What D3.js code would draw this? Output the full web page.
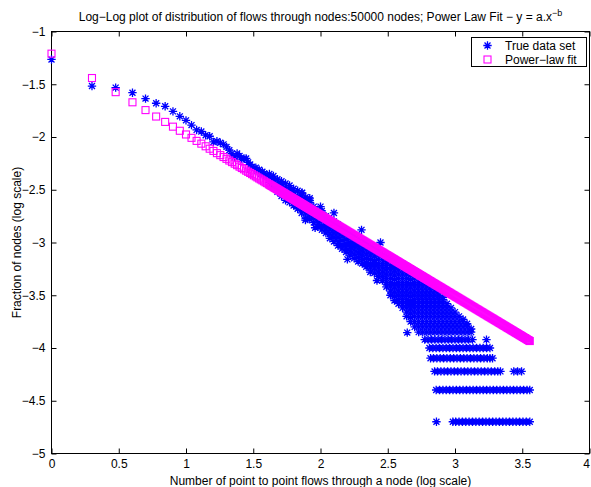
<!DOCTYPE html>
<html><head><meta charset="utf-8">
<script src="https://cdn.jsdelivr.net/npm/d3@7"></script>
<style>body{margin:0;background:#fff}svg{display:block}text{font-family:"Liberation Sans",Arial,sans-serif;fill:#000}</style>
</head><body><svg id="chart" width="591" height="487"></svg>
<script>
// ---------- data ----------
const totalNodes = 50000;
const xTicks = [0, 0.5, 1, 1.5, 2, 2.5, 3, 3.5, 4];
const yTicks = [-5, -4.5, -4, -3.5, -3, -2.5, -2, -1.5, -1];
const titleText = "Log\u2212Log plot of distribution of flows through nodes:50000 nodes; Power Law Fit \u2212 y = a.x";
const titleSup = "\u2212b";
const xLabel = "Number of point to point flows through a node (log scale)";
const yLabel = "Fraction of nodes (log scale)";
const legendLabels = ["True data set", "Power\u2212law fit"];

// true data: first 40 degrees (log10 k, log10 fraction)
const headX = [0,0.301,0.477,0.602,0.699,0.778,0.845,0.903,0.954,1,1.041,1.079,1.114,1.146,1.176,1.204,1.230,1.255,1.279,1.301,1.322,1.342,1.362,1.380,1.398,1.415,1.431,1.447,1.462,1.477,1.491,1.505,1.519,1.531,1.544,1.556,1.568,1.580,1.591,1.602];
const headY = [-1.265,-1.517,-1.532,-1.580,-1.636,-1.680,-1.709,-1.757,-1.804,-1.842,-1.887,-1.933,-1.948,-1.983,-1.993,-2.047,-2.040,-2.055,-2.070,-2.094,-2.125,-2.157,-2.189,-2.157,-2.180,-2.210,-2.204,-2.204,-2.240,-2.260,-2.283,-2.298,-2.290,-2.320,-2.310,-2.350,-2.330,-2.346,-2.370,-2.360];

// true data: scattered cloud, by column
const cloudColX = [1.62,1.65,1.68,1.71,1.74,1.77,1.80,1.83,1.86,1.89,1.92,1.95,1.98,2.01,2.04,2.07,2.10,2.13,2.16,2.19,2.22,2.25,2.28,2.31,2.34,2.37,2.40,2.43,2.46,2.49,2.52,2.55,2.58,2.61,2.64,2.67,2.70,2.73,2.76,2.79,2.82,2.85,2.88,2.91,2.94,2.97,3.00,3.03,3.06,3.09,3.12];
const cloudColY = [
 [-2.43,-2.39,-2.35],
 [-2.47,-2.43,-2.40,-2.37],
 [-2.52,-2.48,-2.44,-2.40],
 [-2.56,-2.52,-2.48,-2.45,-2.42],
 [-2.60,-2.56,-2.52,-2.48,-2.44],
 [-2.62,-2.58,-2.54,-2.50,-2.46],
 [-2.65,-2.61,-2.57,-2.53,-2.49],
 [-2.68,-2.64,-2.60,-2.56,-2.51],
 [-2.72,-2.68,-2.64,-2.60,-2.56,-2.53],
 [-2.77,-2.72,-2.68,-2.64,-2.60,-2.57],
 [-2.78,-2.74,-2.70,-2.66,-2.62,-2.60],
 [-2.81,-2.77,-2.73,-2.69,-2.66],
 [-2.85,-2.81,-2.77,-2.73,-2.69],
 [-2.88,-2.84,-2.80,-2.76,-2.72,-2.70],
 [-2.91,-2.87,-2.83,-2.79,-2.75],
 [-2.96,-2.92,-2.88,-2.84,-2.80],
 [-2.99,-2.95,-2.91,-2.87,-2.83,-2.80],
 [-3.03,-2.99,-2.95,-2.91,-2.87,-2.83],
 [-3.06,-3.02,-2.98,-2.94,-2.90,-2.86],
 [-3.09,-3.05,-3.01,-2.97,-2.93,-2.89],
 [-3.12,-3.08,-3.04,-3.00,-2.96,-2.91],
 [-3.15,-3.11,-3.07,-3.03,-2.99,-2.94],
 [-3.18,-3.14,-3.10,-3.06,-3.02,-2.97],
 [-3.20,-3.16,-3.12,-3.08,-3.04,-3.00],
 [-3.23,-3.19,-3.15,-3.11,-3.07,-3.03,-3.00],
 [-3.28,-3.24,-3.20,-3.16,-3.12,-3.08,-3.04],
 [-3.29,-3.25,-3.21,-3.17,-3.13,-3.09,-3.05],
 [-3.32,-3.28,-3.24,-3.20,-3.16,-3.12,-3.08],
 [-3.36,-3.32,-3.28,-3.24,-3.20,-3.16,-3.12],
 [-3.42,-3.38,-3.34,-3.30,-3.26,-3.22,-3.18,-3.14],
 [-3.50,-3.46,-3.42,-3.38,-3.34,-3.30,-3.26,-3.22,-3.17],
 [-3.55,-3.51,-3.47,-3.43,-3.39,-3.35,-3.31,-3.27,-3.23,-3.19],
 [-3.58,-3.54,-3.50,-3.46,-3.42,-3.38,-3.34,-3.30,-3.26,-3.22],
 [-3.62,-3.58,-3.54,-3.50,-3.46,-3.42,-3.38,-3.34,-3.30,-3.26,-3.23],
 [-3.70,-3.66,-3.62,-3.58,-3.54,-3.50,-3.46,-3.42,-3.38,-3.34,-3.30,-3.26],
 [-3.75,-3.71,-3.67,-3.63,-3.59,-3.55,-3.51,-3.47,-3.43,-3.39,-3.35,-3.31,-3.28],
 [-3.80,-3.75,-3.70,-3.66,-3.62,-3.58,-3.54,-3.50,-3.46,-3.42,-3.38,-3.34,-3.30],
 [-3.85,-3.80,-3.75,-3.70,-3.66,-3.62,-3.58,-3.54,-3.50,-3.46,-3.42,-3.38,-3.34,-3.31],
 [-3.85,-3.80,-3.75,-3.70,-3.66,-3.62,-3.58,-3.54,-3.50,-3.46,-3.42,-3.38,-3.34],
 [-3.85,-3.80,-3.75,-3.70,-3.66,-3.62,-3.58,-3.54,-3.50,-3.46,-3.42,-3.38,-3.35],
 [-3.85,-3.80,-3.75,-3.70,-3.66,-3.62,-3.58,-3.54,-3.50,-3.46,-3.42,-3.38],
 [-3.85,-3.80,-3.75,-3.70,-3.66,-3.62,-3.58,-3.54,-3.50,-3.46,-3.42],
 [-3.85,-3.80,-3.75,-3.70,-3.66,-3.62,-3.58,-3.54,-3.50,-3.46],
 [-3.85,-3.80,-3.75,-3.70,-3.66,-3.62,-3.58,-3.54,-3.52],
 [-3.85,-3.80,-3.75,-3.70,-3.66,-3.62,-3.58],
 [-3.85,-3.80,-3.75,-3.70,-3.66,-3.62],
 [-3.85,-3.80,-3.75,-3.70,-3.66],
 [-3.85,-3.80,-3.75,-3.70],
 [-3.85,-3.80,-3.75,-3.73],
 [-3.85,-3.80,-3.77],
 [-3.85,-3.82]
];

// true data: isolated stars
const outlierX = [1.864,1.920,2.000,2.100,2.305,2.446,1.888,2.645,1.960,2.200,2.420];
const outlierY = [-2.529,-2.580,-2.660,-2.720,-2.880,-3.000,-2.787,-3.854,-2.860,-3.160,-3.360];

// true data: low-count rows (count of nodes = 1..6)
const row1X = [2.862,2.984,3.005,3.03,3.055,3.08,3.105,3.13,3.155,3.18,3.205,3.23,3.255,3.28,3.305,3.33,3.355,3.38,3.405,3.43,3.455,3.48,3.505,3.53,3.556];
const row2X = [2.86,2.885,2.91,2.935,2.96,2.985,3.01,3.035,3.06,3.085,3.11,3.135,3.16,3.185,3.21,3.235,3.26,3.285,3.31,3.335,3.36,3.385,3.41,3.435,3.46,3.485,3.51,3.535,3.556];
const row3X = [2.848,2.87,2.895,2.92,2.945,2.97,2.995,3.02,3.045,3.07,3.095,3.12,3.145,3.17,3.195,3.22,3.245,3.27,3.295,3.318,3.338,3.437,3.465,3.495];
const row4X = [2.818,2.84,2.865,2.89,2.915,2.94,2.965,2.99,3.015,3.04,3.065,3.09,3.115,3.14,3.165,3.19,3.215,3.24,3.26,3.279];
const row5X = [2.81,2.835,2.86,2.885,2.91,2.935,2.96,2.985,3.01,3.035,3.06,3.085,3.11,3.135,3.16,3.185,3.21,3.235,3.26];
const row6X = [2.775,2.80,2.825,2.85,2.875,2.90,2.925,2.95,2.975,3.00,3.025,3.05,3.075,3.10,3.13,3.234];
const rowCounts = [1, 2, 3, 4, 5, 6];

// power-law fit points
const fitX = [0,0.301,0.477,0.602,0.699,0.778,0.845,0.903,0.954,1,1.041,1.079,1.114,1.146,1.176,1.204,1.230,1.255,1.279,1.301,1.322,1.342,1.362,1.380,1.398,1.415,1.431,1.447,1.462,1.477,1.491,1.505,1.519,1.531,1.544,1.556,1.568,1.580,1.591,1.602,
 1.615,1.6225,1.63,1.6375,1.645,1.6525,1.66,1.6675,1.675,1.6825,1.69,1.6975,1.705,1.7125,1.72,1.7275,1.735,1.7425,1.75,1.7575,
 1.765,1.7725,1.78,1.7875,1.795,1.8025,1.81,1.8175,1.825,1.8325,1.84,1.8475,1.855,1.8625,1.87,1.8775,1.885,1.8925,1.9,1.9075,
 1.915,1.9225,1.93,1.9375,1.945,1.9525,1.96,1.9675,1.975,1.9825,1.99,1.9975,2.005,2.0125,2.02,2.0275,2.035,2.0425,2.05,2.0575,
 2.065,2.0725,2.08,2.0875,2.095,2.1025,2.11,2.1175,2.125,2.1325,2.14,2.1475,2.155,2.1625,2.17,2.1775,2.185,2.1925,2.2,2.2075,
 2.215,2.2225,2.23,2.2375,2.245,2.2525,2.26,2.2675,2.275,2.2825,2.29,2.2975,2.305,2.3125,2.32,2.3275,2.335,2.3425,2.35,2.3575,
 2.365,2.3725,2.38,2.3875,2.395,2.4025,2.41,2.4175,2.425,2.4325,2.44,2.4475,2.455,2.4625,2.47,2.4775,2.485,2.4925,2.5,2.5075,
 2.515,2.5225,2.53,2.5375,2.545,2.5525,2.56,2.5675,2.575,2.5825,2.59,2.5975,2.605,2.6125,2.62,2.6275,2.635,2.6425,2.65,2.6575,
 2.665,2.6725,2.68,2.6875,2.695,2.7025,2.71,2.7175,2.725,2.7325,2.74,2.7475,2.755,2.7625,2.77,2.7775,2.785,2.7925,2.8,2.8075,
 2.815,2.8225,2.83,2.8375,2.845,2.8525,2.86,2.8675,2.875,2.8825,2.89,2.8975,2.905,2.9125,2.92,2.9275,2.935,2.9425,2.95,2.9575,
 2.965,2.9725,2.98,2.9875,2.995,3.0025,3.01,3.0175,3.025,3.0325,3.04,3.0475,3.055,3.0625,3.07,3.0775,3.085,3.0925,3.1,3.1075,
 3.115,3.1225,3.13,3.1375,3.145,3.1525,3.16,3.1675,3.175,3.1825,3.19,3.1975,3.205,3.2125,3.22,3.2275,3.235,3.2425,3.25,3.2575,
 3.265,3.2725,3.28,3.2875,3.295,3.3025,3.31,3.3175,3.325,3.3325,3.34,3.3475,3.355,3.3625,3.37,3.3775,3.385,3.3925,3.4,3.4075,
 3.415,3.4225,3.43,3.4375,3.445,3.4525,3.46,3.4675,3.475,3.4825,3.49,3.4975,3.505,3.5125,3.52,3.5275,3.535,3.5425,3.55,3.556];
const fitY = [-1.210,-1.441,-1.575,-1.671,-1.745,-1.806,-1.857,-1.902,-1.941,-1.976,-2.008,-2.037,-2.063,-2.088,-2.111,-2.132,-2.153,-2.172,-2.190,-2.207,-2.223,-2.238,-2.253,-2.267,-2.281,-2.294,-2.306,-2.319,-2.330,-2.341,-2.352,-2.363,-2.373,-2.383,-2.393,-2.402,-2.411,-2.420,-2.429,-2.437,
 -2.447,-2.453,-2.459,-2.464,-2.470,-2.476,-2.482,-2.487,-2.493,-2.499,-2.505,-2.510,-2.516,-2.522,-2.528,-2.533,-2.539,-2.545,-2.551,-2.556,
 -2.562,-2.568,-2.573,-2.579,-2.585,-2.591,-2.596,-2.602,-2.608,-2.614,-2.619,-2.625,-2.631,-2.637,-2.642,-2.648,-2.654,-2.660,-2.665,-2.671,
 -2.677,-2.683,-2.688,-2.694,-2.700,-2.706,-2.711,-2.717,-2.723,-2.729,-2.734,-2.740,-2.746,-2.752,-2.757,-2.763,-2.769,-2.775,-2.780,-2.786,
 -2.792,-2.798,-2.803,-2.809,-2.815,-2.821,-2.826,-2.832,-2.838,-2.844,-2.849,-2.855,-2.861,-2.866,-2.872,-2.878,-2.884,-2.889,-2.895,-2.901,
 -2.907,-2.912,-2.918,-2.924,-2.930,-2.935,-2.941,-2.947,-2.953,-2.958,-2.964,-2.970,-2.976,-2.981,-2.987,-2.993,-2.999,-3.004,-3.010,-3.016,
 -3.022,-3.027,-3.033,-3.039,-3.045,-3.050,-3.056,-3.062,-3.068,-3.073,-3.079,-3.085,-3.091,-3.096,-3.102,-3.108,-3.114,-3.119,-3.125,-3.131,
 -3.136,-3.142,-3.148,-3.154,-3.159,-3.165,-3.171,-3.177,-3.182,-3.188,-3.194,-3.200,-3.205,-3.211,-3.217,-3.223,-3.228,-3.234,-3.240,-3.246,
 -3.251,-3.257,-3.263,-3.269,-3.274,-3.280,-3.286,-3.292,-3.297,-3.303,-3.309,-3.315,-3.320,-3.326,-3.332,-3.338,-3.343,-3.349,-3.355,-3.361,
 -3.366,-3.372,-3.378,-3.384,-3.389,-3.395,-3.401,-3.407,-3.412,-3.418,-3.424,-3.429,-3.435,-3.441,-3.447,-3.452,-3.458,-3.464,-3.470,-3.475,
 -3.481,-3.487,-3.493,-3.498,-3.504,-3.510,-3.516,-3.521,-3.527,-3.533,-3.539,-3.544,-3.550,-3.556,-3.562,-3.567,-3.573,-3.579,-3.585,-3.590,
 -3.596,-3.602,-3.608,-3.613,-3.619,-3.625,-3.631,-3.636,-3.642,-3.648,-3.654,-3.659,-3.665,-3.671,-3.677,-3.682,-3.688,-3.694,-3.700,-3.705,
 -3.711,-3.717,-3.722,-3.728,-3.734,-3.740,-3.745,-3.751,-3.757,-3.763,-3.768,-3.774,-3.780,-3.786,-3.791,-3.797,-3.803,-3.809,-3.814,-3.820,
 -3.826,-3.832,-3.837,-3.843,-3.849,-3.855,-3.860,-3.866,-3.872,-3.878,-3.883,-3.889,-3.895,-3.901,-3.906,-3.912,-3.918,-3.924,-3.929,-3.934];

// ---------- drawing ----------
const M = {left: 51.5, right: 589.5, top: 31.5, bottom: 453.5};
const svg = d3.select("#chart");
const x = d3.scaleLinear().domain([0, 4]).range([M.left, M.right]);
const y = d3.scaleLinear().domain([-5, -1]).range([M.bottom, M.top]);
const fmt = d => (d < 0 ? "\u2212" : "") + Math.abs(d);
const BLUE = "#0000ff", MAG = "#ff00ff";
const FS = 12;

// assemble the true data set
const trueData = [];
headX.forEach((d, i) => trueData.push([d, headY[i]]));
cloudColX.forEach((cx, i) => cloudColY[i].forEach(v => trueData.push([cx, v])));
outlierX.forEach((d, i) => trueData.push([d, outlierY[i]]));
[row1X, row2X, row3X, row4X, row5X, row6X].forEach((arr, i) => {
  const yv = Math.log10(rowCounts[i] / totalNodes);
  arr.forEach(d => trueData.push([d, yv]));
});
const fitData = fitX.map((d, i) => [d, fitY[i]]);

const R = 4.2;
const starPath = r => {
  const s = r * 0.71;
  return `M${-r},0H${r}M0,${-r}V${r}M${-s},${-s}L${s},${s}M${-s},${s}L${s},${-s}`;
};

// axes (ticks inward on all four sides)
const gx = svg.append("g").attr("transform", `translate(0,${M.bottom})`)
  .call(d3.axisBottom(x).tickValues(xTicks).tickSizeInner(-5).tickSizeOuter(0).tickPadding(6).tickFormat(fmt));
const gxt = svg.append("g").attr("transform", `translate(0,${M.top})`)
  .call(d3.axisTop(x).tickValues(xTicks).tickSizeInner(-5).tickSizeOuter(0).tickFormat(""));
const gy = svg.append("g").attr("transform", `translate(${M.left},0)`)
  .call(d3.axisLeft(y).tickValues(yTicks).tickSizeInner(-5).tickSizeOuter(0).tickPadding(6).tickFormat(fmt));
const gyr = svg.append("g").attr("transform", `translate(${M.right},0)`)
  .call(d3.axisRight(y).tickValues(yTicks).tickSizeInner(-5).tickSizeOuter(0).tickFormat(""));
[gx, gxt, gy, gyr].forEach(g => {
  g.select(".domain").remove();
  g.selectAll(".tick line").attr("stroke", "#000").attr("stroke-width", 1);
  g.selectAll(".tick text").attr("font-size", FS).attr("font-family", null).attr("fill", "#000");
});
// keep the last x label inside the picture
gx.selectAll(".tick text").filter(d => d === 4).attr("text-anchor", "end").attr("dx", 0);
svg.append("rect").attr("x", M.left).attr("y", M.top)
  .attr("width", M.right - M.left).attr("height", M.bottom - M.top)
  .attr("fill", "none").attr("stroke", "#000").attr("stroke-width", 1);

// true data stars
svg.append("g").selectAll("path").data(trueData).join("path")
  .attr("d", starPath(R))
  .attr("transform", d => `translate(${x(d[0])},${y(d[1])})`)
  .attr("fill", "none").attr("stroke", BLUE).attr("stroke-width", 1.3);

// fit squares
const S = 7;
svg.append("g").selectAll("rect").data(fitData).join("rect")
  .attr("x", d => x(d[0]) - S / 2).attr("y", d => y(d[1]) - S / 2)
  .attr("width", S).attr("height", S)
  .attr("fill", "none").attr("stroke", MAG).attr("stroke-width", 1.1);

// title
const title = svg.append("text").attr("x", (M.left + M.right) / 2).attr("y", 21)
  .attr("text-anchor", "middle").attr("font-size", FS);
title.append("tspan").text(titleText);
title.append("tspan").attr("dy", -5).attr("font-size", 9).text(titleSup);

// axis labels
svg.append("text").attr("x", (M.left + M.right) / 2).attr("y", 485)
  .attr("text-anchor", "middle").attr("font-size", FS).text(xLabel);
svg.append("text").attr("transform", `translate(21,${(M.top + M.bottom) / 2}) rotate(-90)`)
  .attr("text-anchor", "middle").attr("font-size", FS).text(yLabel);

// legend
const lg = svg.append("g");
lg.append("rect").attr("x", 471.5).attr("y", 37.5).attr("width", 115).attr("height", 29)
  .attr("fill", "#fff").attr("stroke", "#000").attr("stroke-width", 1);
lg.append("path").attr("d", starPath(R)).attr("transform", "translate(487.5,45.5)")
  .attr("fill", "none").attr("stroke", BLUE).attr("stroke-width", 1.3);
lg.append("rect").attr("x", 487.5 - S / 2).attr("y", 59.5 - S / 2).attr("width", S).attr("height", S)
  .attr("fill", "none").attr("stroke", MAG).attr("stroke-width", 1.1);
legendLabels.forEach((t, i) => {
  lg.append("text").attr("x", 505).attr("y", 45.5 + i * 14).attr("dy", "0.35em")
    .attr("font-size", FS).text(t);
});
</script></body></html>
